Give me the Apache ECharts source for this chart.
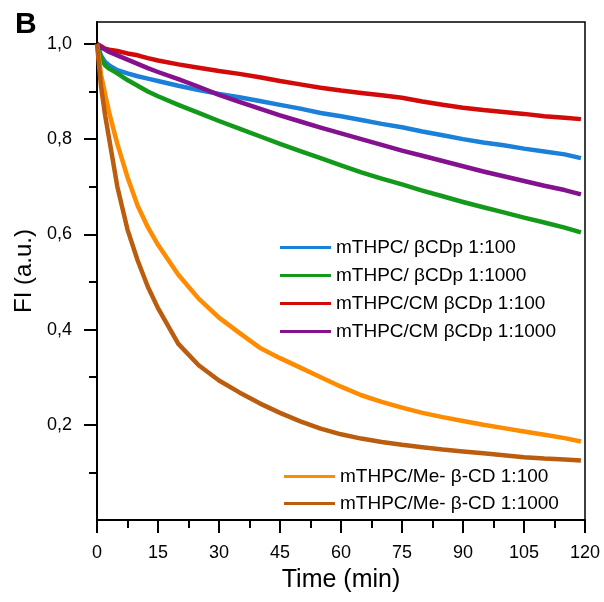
<!DOCTYPE html>
<html>
<head>
<meta charset="utf-8">
<script src="https://cdn.jsdelivr.net/npm/echarts@6/dist/echarts.min.js"></script>
<style>
  html, body { margin: 0; padding: 0; background: #fff; }
  #chart { width: 604px; height: 602px; }
</style>
</head>
<body>
<div id="chart"></div>
<script>
// time points (min)
var time = [0, 1, 2, 3, 5, 7.5, 10, 12.5, 15, 20, 25, 30, 35, 40, 45, 50, 55, 60, 65, 70, 75, 80, 85, 90, 95, 100, 105, 110, 115, 119];

var bcdp100 = [1.0, 0.975, 0.962, 0.955, 0.945, 0.938, 0.932, 0.927, 0.922, 0.912, 0.903, 0.895, 0.888, 0.88, 0.872, 0.864, 0.855, 0.848, 0.84, 0.832, 0.825, 0.816, 0.808, 0.8, 0.793, 0.787, 0.78, 0.774, 0.768, 0.76];
var bcdp1000 = [1.0, 0.97, 0.955, 0.948, 0.938, 0.924, 0.912, 0.9, 0.89, 0.872, 0.855, 0.838, 0.822, 0.806, 0.79, 0.775, 0.76, 0.745, 0.73, 0.717, 0.705, 0.692, 0.68, 0.668, 0.657, 0.646, 0.635, 0.625, 0.614, 0.604];
var cm100 = [1.0, 0.995, 0.99, 0.988, 0.985, 0.98, 0.976, 0.97, 0.965, 0.957, 0.95, 0.943, 0.937, 0.93, 0.922, 0.915, 0.908, 0.902, 0.897, 0.892, 0.887, 0.879, 0.872, 0.866, 0.861, 0.857, 0.853, 0.848, 0.845, 0.842];
var cm1000 = [1.0, 0.993, 0.988, 0.983, 0.976, 0.967, 0.958, 0.949, 0.941, 0.926, 0.91, 0.893, 0.878, 0.864, 0.85, 0.837, 0.824, 0.812, 0.8, 0.788, 0.776, 0.765, 0.754, 0.743, 0.732, 0.722, 0.712, 0.702, 0.693, 0.684];
var me100 = [1.0, 0.935, 0.895, 0.855, 0.79, 0.72, 0.66, 0.615, 0.578, 0.515, 0.465, 0.425, 0.393, 0.362, 0.34, 0.32, 0.30, 0.28, 0.262, 0.248, 0.236, 0.225, 0.216, 0.208, 0.2, 0.193, 0.186, 0.179, 0.172, 0.165];
var me1000 = [1.0, 0.91, 0.85, 0.8, 0.70, 0.61, 0.545, 0.49, 0.445, 0.37, 0.325, 0.293, 0.268, 0.245, 0.225, 0.207, 0.192, 0.18, 0.171, 0.164, 0.158, 0.153, 0.148, 0.144, 0.14, 0.136, 0.132, 0.129, 0.127, 0.125];

var names = [
  "mTHPC/ \u03b2CDp 1:100",
  "mTHPC/ \u03b2CDp 1:1000",
  "mTHPC/CM \u03b2CDp 1:100",
  "mTHPC/CM \u03b2CDp 1:1000",
  "mTHPC/Me- \u03b2-CD 1:100",
  "mTHPC/Me- \u03b2-CD 1:1000"
];
var colors = ["#1a80d8", "#139a1a", "#d20a0a", "#84128e", "#ff8c00", "#bb5d0e"];
var values = [bcdp100, bcdp1000, cm100, cm1000, me100, me1000];

// y ticks
var yMajor = [0.2, 0.4, 0.6, 0.8, 1.0];
var yMinor = [0.1, 0.3, 0.5, 0.7, 0.9];

var FONT = "Liberation Sans, Arial, sans-serif";

function pairs(ys) {
  return ys.map(function (v, i) { return [time[i], v]; });
}

var series = values.map(function (ys, i) {
  return {
    name: names[i],
    type: "line",
    data: pairs(ys),
    showSymbol: false,
    lineStyle: { color: colors[i], width: 4.5, join: "round" },
    itemStyle: { color: colors[i] }
  };
});

var chart = echarts.init(document.getElementById("chart"), null, { renderer: "canvas" });
var option = {
  animation: false,
  backgroundColor: "#fff",
  title: {
    text: "B",
    left: 10,
    top: 5,
    textStyle: { fontFamily: FONT, fontSize: 30, fontWeight: "bold", color: "#000" }
  },
  grid: {
    left: 97, top: 22, right: 19, bottom: 82,
    show: true, borderColor: "#000", borderWidth: 1.5
  },
  legend: [
    {
      data: names.slice(0, 4),
      orient: "vertical",
      left: 275, top: 233,
      icon: "rect", itemWidth: 51, itemHeight: 3, itemGap: 9,
      textStyle: { fontFamily: FONT, fontSize: 19, color: "#000" }
    },
    {
      data: names.slice(4),
      orient: "vertical",
      left: 279, top: 462,
      icon: "rect", itemWidth: 51, itemHeight: 3, itemGap: 8,
      textStyle: { fontFamily: FONT, fontSize: 19, color: "#000" }
    }
  ],
  xAxis: {
    type: "value",
    min: 0, max: 120, interval: 15,
    name: "Time (min)",
    nameLocation: "middle",
    nameGap: 48,
    nameTextStyle: { fontFamily: FONT, fontSize: 25, color: "#000" },
    axisLine: { lineStyle: { color: "#000", width: 2 } },
    axisTick: { length: 13, lineStyle: { color: "#000", width: 2 } },
    minorTick: { show: true, splitNumber: 2, length: 8, lineStyle: { color: "#000", width: 2 } },
    axisLabel: { margin: 24, fontFamily: FONT, fontSize: 18, color: "#000" },
    splitLine: { show: false }
  },
  yAxis: [
    {
      type: "value",
      min: 0, max: 1.046,
      name: "FI (a.u.)",
      nameLocation: "middle",
      nameGap: 61,
      nameTextStyle: { fontFamily: FONT, fontSize: 24, color: "#000" },
      axisLine: { lineStyle: { color: "#000", width: 2 } },
      axisTick: { customValues: yMajor, length: 13, lineStyle: { color: "#000", width: 2 } },
      axisLabel: {
        customValues: yMajor,
        margin: 25,
        fontFamily: FONT, fontSize: 18, color: "#000",
        formatter: function (v) { return v.toFixed(1).replace(".", ","); }
      },
      splitLine: { show: false }
    },
    {
      type: "value",
      position: "left",
      min: 0, max: 1.046,
      axisLine: { show: false },
      axisTick: { customValues: yMinor, length: 8, lineStyle: { color: "#000", width: 2 } },
      axisLabel: { show: false },
      splitLine: { show: false }
    }
  ],
  series: series
};
chart.setOption(option);
</script>
</body>
</html>
